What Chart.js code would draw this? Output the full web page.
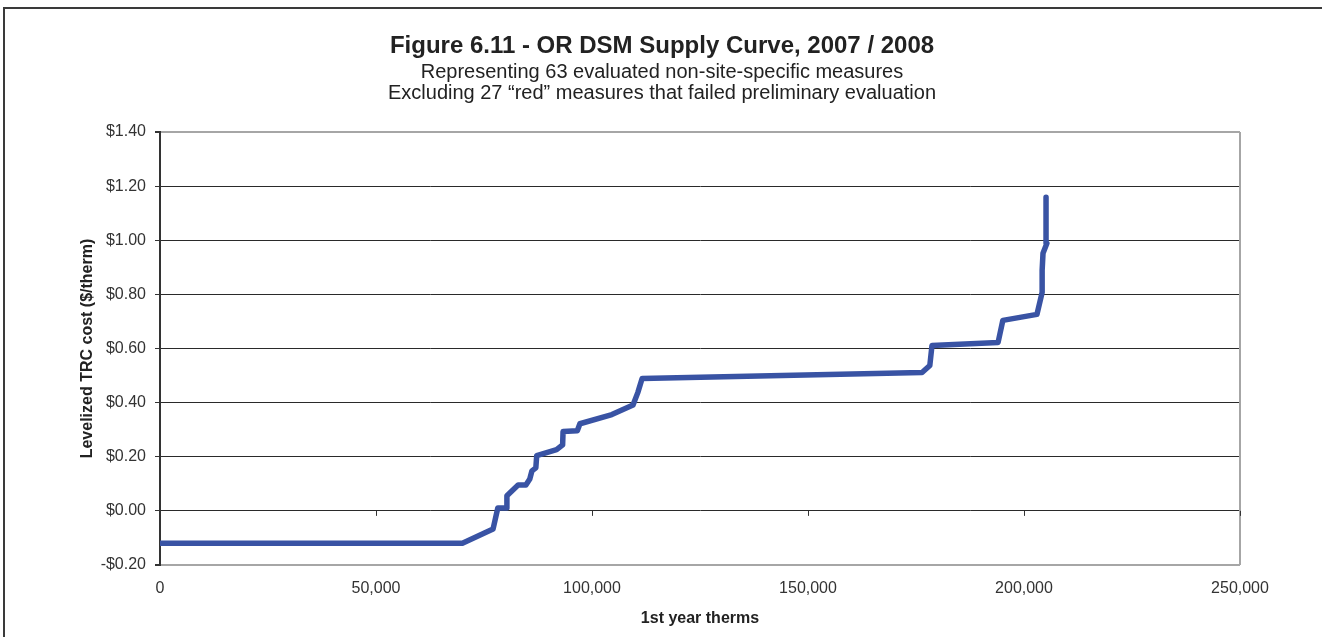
<!DOCTYPE html>
<html>
<head>
<meta charset="utf-8">
<script src="https://cdn.jsdelivr.net/npm/chart.js@4"></script>
<style>
  html, body { margin: 0; padding: 0; background: #fff; overflow: hidden; }
  #wrap { position: relative; width: 1322px; height: 637px; }
  #frame { position: absolute; left: 3px; top: 7px; width: 1400px; height: 700px;
           border-left: 2px solid #3a3a3a; border-top: 2px solid #3a3a3a; }
  canvas { position: absolute; left: 0; top: 0; }
</style>
</head>
<body>
<div id="wrap">
  <div id="frame"></div>
  <canvas id="chart" width="1322" height="637"></canvas>
</div>
<script>
// supply curve: cumulative 1st year therms vs levelized TRC cost
const therms = [0, 70000, 77100, 78200, 80300, 80300, 82900, 84700, 85600, 86100,
  87000, 87200, 91800, 93200, 93300, 96600, 97200, 104600, 109500, 110600,
  111600, 176400, 178200, 178700, 194000, 195100, 203000, 204200, 204200, 204400,
  205300, 205100];
const costs = [-0.12, -0.12, -0.067, 0.011, 0.011, 0.056, 0.096, 0.096, 0.118, 0.148,
  0.159, 0.204, 0.226, 0.244, 0.293, 0.296, 0.322, 0.356, 0.391, 0.437,
  0.489, 0.511, 0.537, 0.611, 0.622, 0.704, 0.726, 0.807, 0.889, 0.952,
  0.989, 1.159];

const xTicks = [0, 50000, 100000, 150000, 200000, 250000];
const yTicks = [-0.2, 0, 0.2, 0.4, 0.6, 0.8, 1.0, 1.2, 1.4];

const FONT = "'Liberation Sans', Arial, sans-serif";

// gray frame on right, little x tick marks on the $0.00 line
const plotFrame = {
  id: "plotFrame",
  beforeDatasetsDraw(chart) {
    const { ctx, chartArea: a, scales } = chart;
    ctx.save();
    ctx.strokeStyle = "#a6a6a6";
    ctx.lineWidth = 2;
    ctx.beginPath();
    ctx.moveTo(a.right, a.top);
    ctx.lineTo(a.right, a.bottom);
    ctx.stroke();
    const y0 = scales.y.getPixelForValue(0);
    ctx.strokeStyle = "#333";
    ctx.lineWidth = 1;
    xTicks.forEach(v => {
      const x = Math.round(scales.x.getPixelForValue(v)) + 0.5;
      ctx.beginPath();
      ctx.moveTo(x, y0);
      ctx.lineTo(x, y0 + 5);
      ctx.stroke();
    });
    ctx.restore();
  }
};

new Chart(document.getElementById("chart"), {
  type: "scatter",
  data: {
    datasets: [{
      data: therms.map((t, i) => ({ x: t, y: costs[i] })),
      showLine: true,
      borderColor: "#3953a4",
      borderWidth: 5.5,
      borderJoinStyle: "round",
      borderCapStyle: "round",
      pointRadius: 0,
      tension: 0
    }]
  },
  options: {
    responsive: false,
    animation: false,
    // left/right padding balanced so the titles centre at x=662
    layout: { padding: { left: 84, right: 82, top: 0, bottom: 0 } },
    plugins: {
      legend: { display: false },
      tooltip: { enabled: false },
      title: {
        display: true,
        text: "Figure 6.11 - OR DSM Supply Curve, 2007 / 2008",
        color: "#222",
        font: { family: FONT, size: 24, weight: "bold", lineHeight: 1.2 },
        padding: { top: 32, bottom: 1 }
      },
      subtitle: {
        display: true,
        text: ["Representing 63 evaluated non-site-specific measures",
               "Excluding 27 \u201cred\u201d measures that failed preliminary evaluation"],
        color: "#222",
        font: { family: FONT, size: 20, lineHeight: 1.05 },
        padding: { top: 0, bottom: 28.2 }
      }
    },
    scales: {
      x: {
        type: "linear",
        min: 0,
        max: 250000,
        afterBuildTicks: s => { s.ticks = xTicks.map(v => ({ value: v })); },
        afterFit: s => { s.height = 72; },
        grid: { display: false },
        border: { display: false },
        ticks: {
          color: "#333",
          font: { family: FONT, size: 16 },
          padding: 6,
          maxRotation: 0,
          callback: v => v.toLocaleString("en-US")
        },
        title: {
          display: true,
          text: "1st year therms",
          color: "#222",
          font: { family: FONT, size: 16, weight: "bold", lineHeight: 1.2 },
          padding: { top: 0, bottom: 9 }
        }
      },
      y: {
        min: -0.2,
        max: 1.4,
        afterBuildTicks: s => { s.ticks = yTicks.map(v => ({ value: v })); },
        afterFit: s => { s.width = 76; },
        grid: {
          color: c => (c.tick && (c.tick.value === 1.4 || c.tick.value === -0.2)) ? "#a6a6a6" : "#2a2a2a",
          lineWidth: c => (c.tick && (c.tick.value === 1.4 || c.tick.value === -0.2)) ? 2 : 1,
          tickColor: "#333",
          tickLength: 5
        },
        border: { display: true, color: "#333", width: 2 },
        ticks: {
          color: "#333",
          font: { family: FONT, size: 16 },
          padding: 9,
          callback: v => (v < 0 ? "-$" : "$") + Math.abs(v).toFixed(2)
        },
        title: {
          display: true,
          text: "Levelized TRC cost ($/therm)",
          color: "#222",
          font: { family: FONT, size: 16, weight: "bold", lineHeight: 1.2 },
          padding: { top: -5.6, bottom: 0 }
        }
      }
    }
  },
  plugins: [plotFrame]
});
</script>
</body>
</html>
